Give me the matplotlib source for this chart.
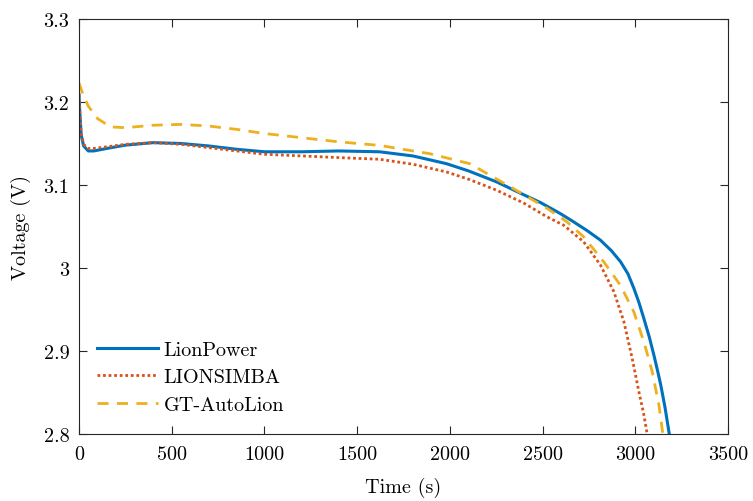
import matplotlib
matplotlib.use("Agg")
import matplotlib.pyplot as plt

# okunan veriler (zaman s, gerilim V)
t_lionpower = [0, 5, 12, 25, 50, 80, 150, 250, 400, 550, 700, 850, 1000, 1200, 1400, 1620,
               1800, 1981, 2100, 2252, 2400, 2487, 2595, 2667, 2740, 2812, 2870, 2920, 2960,
               2992, 3020, 3046, 3075, 3100, 3120, 3137, 3160, 3185]
v_lionpower = [3.209, 3.185, 3.160, 3.147, 3.141, 3.141, 3.144, 3.148, 3.151, 3.150, 3.147,
               3.143, 3.140, 3.140, 3.141, 3.140, 3.135, 3.1257, 3.117, 3.1037, 3.088, 3.079,
               3.0656, 3.0556, 3.045, 3.0335, 3.021, 3.0076, 2.993, 2.9755, 2.958, 2.939,
               2.917, 2.895, 2.876, 2.859, 2.832, 2.797]

t_lionsimba = [0, 5, 12, 25, 50, 80, 150, 250, 400, 550, 700, 850, 1000, 1200, 1400, 1620,
               1800, 1981, 2100, 2252, 2400, 2523, 2613, 2721, 2812, 2884, 2938, 2983, 3019,
               3046, 3066]
v_lionsimba = [3.209, 3.185, 3.162, 3.149, 3.144, 3.144, 3.146, 3.149, 3.151, 3.149, 3.145,
               3.141, 3.137, 3.135, 3.133, 3.131, 3.125, 3.1157, 3.107, 3.0937, 3.078, 3.0617,
               3.0516, 3.0316, 3.0035, 2.9715, 2.9355, 2.891, 2.851, 2.823, 2.797]

t_autolion = [0, 20, 50, 100, 170, 250, 400, 550, 700, 850, 1000, 1200, 1400, 1620, 1891,
              2107, 2342, 2523, 2631, 2721, 2829, 2920, 2992, 3046, 3091, 3127, 3150]
v_autolion = [3.223, 3.210, 3.195, 3.180, 3.170, 3.169, 3.172, 3.173, 3.171, 3.167, 3.162,
              3.157, 3.152, 3.1477, 3.1377, 3.1257, 3.0957, 3.072, 3.0556, 3.0376, 3.0076,
              2.979, 2.947, 2.911, 2.875, 2.835, 2.797]

x_ticks = [0, 500, 1000, 1500, 2000, 2500, 3000, 3500]
y_ticks = [2.8, 2.9, 3.0, 3.1, 3.2, 3.3]
y_labels = ["2.8", "2.9", "3", "3.1", "3.2", "3.3"]

plt.rcParams["font.family"] = "serif"
plt.rcParams["font.serif"] = ["cmr10"]
plt.rcParams["mathtext.fontset"] = "cm"
plt.rcParams["axes.formatter.use_mathtext"] = True
plt.rcParams["font.size"] = 14.5

fig = plt.figure(figsize=(7.53, 5.02), dpi=100)
ax = fig.add_axes([0.1049, 0.1335, 0.862, 0.8267])

ax.plot(t_lionpower, v_lionpower, color="#0072BD", lw=2.2, label="LionPower")
ax.plot(t_lionsimba, v_lionsimba, color="#D95319", lw=2.0, ls=(0, (1, 1)), label="LIONSIMBA")
ax.plot(t_autolion, v_autolion, color="#EDB120", lw=2.0, ls=(0, (4, 3)), label="GT-AutoLion")

ax.set_xlim(0, 3500)
ax.set_ylim(2.8, 3.3)
ax.set_xticks(x_ticks)
ax.set_xticklabels([str(x) for x in x_ticks])
ax.set_yticks(y_ticks)
ax.set_yticklabels(y_labels)
ax.tick_params(direction="in", top=True, right=True, length=6, colors="0.15", labelcolor="black")
ax.tick_params(axis="x", pad=8)
ax.tick_params(axis="y", pad=7)
for s in ax.spines.values():
    s.set_color("0.15")
    s.set_linewidth(0.8)

ax.set_xlabel("Time (s)", labelpad=10)
ax.set_ylabel("Voltage (V)", labelpad=9)

ax.legend(loc="lower left", bbox_to_anchor=(0.0, 0.005), frameon=False, handlelength=3.0,
          handletextpad=0.3, labelspacing=0.47)

fig.savefig("out.png", dpi=100)
